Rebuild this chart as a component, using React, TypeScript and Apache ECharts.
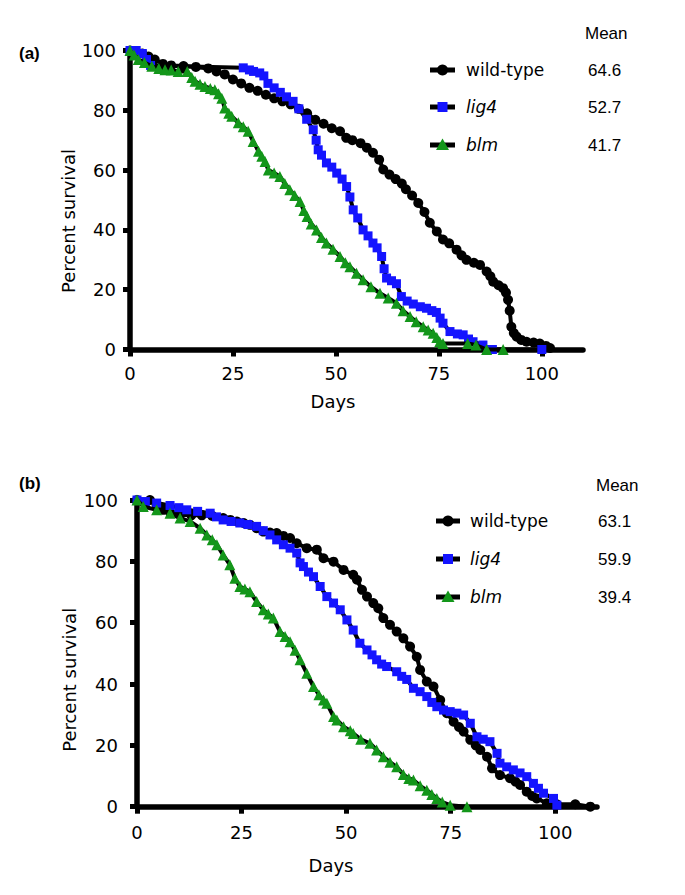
import React, { useEffect, useRef } from "react";
import * as echarts from "echarts";

// ---------- Data (days, percent survival) ----------
const xTicks = [0, 25, 50, 75, 100];
const yTicks = [0, 20, 40, 60, 80, 100];
const seriesNames = ["wild-type", "lig4", "blm"];
const meansA = ["64.6", "52.7", "41.7"];
const meansB = ["63.1", "59.9", "39.4"];

const aWildType = [
  [0, 100], [1.5, 99.5], [3, 99], [4.5, 98], [6, 97], [8, 95.5], [10, 95], [13, 94.8], [16, 94.5],
  [19, 94], [21, 93], [23, 92], [25, 90.3], [27, 89], [29, 87.5], [31, 86.5], [33, 85.2], [35, 84],
  [37, 83], [39, 82], [41, 80.5], [43, 79], [45, 76.8], [47, 75.5], [49, 74], [51, 73], [52.5, 70.8],
  [54, 70], [56, 69], [57.5, 67.5], [59, 65.8], [60.5, 63.5], [61.5, 60.2], [63, 58.5], [64.5, 57],
  [66, 55.5], [67, 53.6], [68.5, 51.5], [70, 49], [71.5, 46], [72.8, 42.4], [74.5, 39.5], [76, 36.8],
  [77.5, 35.5], [79.3, 33.4], [80.5, 31.5], [81.7, 30], [83.5, 29], [85, 28.3], [86.6, 26.1],
  [87.5, 24.5], [88.2, 22.7], [89.5, 21.5], [90.6, 20.5], [91.3, 19], [91.8, 16.6], [92.2, 13],
  [92.6, 7.6], [93.2, 5.5], [93.9, 4.3], [95, 3.2], [96.3, 2.6], [98, 2.3], [99.5, 2], [101, 1.2],
  [102, 0.5],
];
const aLig4 = [
  [0, 100], [1.5, 100], [3, 99], [4, 97], [5, 95], [27.5, 94.2], [29, 93.5], [30, 93], [31.5, 92.5],
  [32.5, 91.5], [33.5, 89], [35, 87.5], [36.5, 86], [38, 84.5], [39.6, 83], [41, 80.5], [42.9, 77],
  [44.5, 73.5], [45.2, 70], [45.7, 66.8], [46.5, 65], [47.7, 62.4], [49, 61], [50.2, 59], [51.5, 57],
  [52.6, 54.5], [53.4, 51], [54.2, 46.7], [55.3, 44], [56.6, 40], [57.8, 38], [59, 35.6], [60, 34],
  [61.1, 31.1], [61.7, 27], [62.3, 23.9], [63.5, 23], [64.7, 22], [65.9, 17.7], [67.3, 16.2],
  [68.8, 15.2], [70.5, 14.3], [72, 13.8], [73.3, 13], [74.4, 12.4], [75.3, 10.5], [76, 8.8],
  [77.7, 6], [79.5, 5.2], [80.9, 4.9], [82.2, 3.5], [83.3, 2.6], [85.7, 1.5], [87, 0], [88, 0],
  [100, 0],
];
const aBlm = [
  [0, 100], [1, 98.5], [2, 97], [3.5, 96], [5.3, 94.7], [7, 94], [8.5, 93.6], [10, 93.5], [11.7, 93],
  [13.9, 93], [15, 91], [15.8, 89.7], [17, 88.7], [18.2, 88], [19.5, 87.3], [20.6, 86.9], [21.5, 85.5],
  [22.3, 84], [23, 80.8], [24, 79], [24.7, 78], [26.3, 75.8], [27.5, 74.5], [28.7, 73], [29.9, 69.6],
  [31.2, 66.3], [32, 64.6], [32.8, 62.9], [33.6, 60], [35, 59], [36.4, 57.9], [37.6, 55.5],
  [38.8, 53.4], [40, 51.5], [41.3, 49.5], [42.2, 46.5], [43, 44.5], [44, 42], [45.3, 40], [46.5, 37.5],
  [47.7, 35.6], [49.3, 33.5], [51, 31.1], [52.3, 29], [53.4, 27.7], [55, 25.5], [56.6, 23.3],
  [58.5, 21], [60.7, 18.8], [62.7, 17.2], [64.7, 15.5], [66.3, 13], [68, 11], [69.5, 9.3],
  [71.2, 7.6], [72.4, 6.5], [73.6, 5.4], [74.5, 4], [75.2, 2.6], [76, 2], [82, 2], [84, 1.5],
  [86.6, 0], [90.6, 0],
];

const bWildType = [
  [0, 100], [3.1, 100], [4.7, 98.4], [6.3, 96.8], [8, 95.8], [10.3, 95.2], [13, 95], [15.5, 95],
  [18, 94.8], [20.6, 94.1], [22.3, 93.5], [23.9, 93], [25.5, 92.5], [27, 91.9], [28.6, 90.8],
  [30.2, 89.7], [31.8, 89.4], [33.4, 89.2], [35, 88.3], [36.6, 87.6], [38.2, 85.9], [40.6, 84.3],
  [43, 83.8], [44.6, 81], [47, 79.9], [49.4, 77.2], [51.7, 75.6], [52.6, 74], [53.8, 70.7], [55, 68.5],
  [56.5, 66.4], [57.7, 64.7], [58.9, 61.5], [60.5, 59.3], [62.1, 57.1], [63.7, 54.9], [65.3, 52.2],
  [66.9, 48.9], [67.7, 44.6], [69.3, 40.8], [70.9, 39.2], [72.5, 34.8], [74.1, 30.5], [75.7, 27.7],
  [77, 26], [78.1, 24.5], [79.7, 21.8], [81, 20], [82.1, 18.5], [83.7, 16.3], [84.9, 12.5],
  [86.8, 10.3], [89.2, 9.3], [90.5, 8.2], [91.6, 7.1], [93.2, 4.9], [94.5, 3.5], [95.6, 2.7],
  [98, 1.1], [100.4, 0.8], [104.8, 0.8], [108.4, 0],
];
const bLig4 = [
  [0, 100], [2, 99.5], [4.7, 99], [7.9, 98.2], [10, 97.5], [11.9, 96.8], [14.5, 96.3], [17.5, 95.7],
  [19, 94.5], [20.6, 93.5], [22.5, 93], [24.6, 92.5], [26.5, 92], [28.6, 91.4], [30.2, 90],
  [31.8, 88.6], [33.4, 87], [35, 85.4], [36.6, 84.3], [38.2, 82.7], [39, 79.5], [39.8, 78.3],
  [41, 76.5], [42.2, 75], [43.8, 71.8], [45.4, 68.5], [47, 66.4], [48.6, 64.2], [50.2, 60.9],
  [51.7, 57.6], [53.3, 53.3], [55, 51.1], [56.2, 49.5], [57.3, 47.9], [58.5, 46.5], [59.7, 45.7],
  [62.1, 44], [63.3, 42.5], [64.5, 41.5], [66.1, 38.6], [67.7, 37.5], [69.3, 35.9], [70.5, 34],
  [71.7, 32.6], [73.3, 31.5], [74.9, 31], [76.5, 30.5], [78.1, 29.9], [79.7, 27.2], [81.3, 22.8],
  [82.8, 22], [84.4, 21.2], [86.1, 17.4], [86.8, 14.2], [88.4, 13], [90, 12], [91.6, 11], [93.2, 9.8],
  [94.8, 7.6], [96, 6], [97.2, 4.4], [99.6, 2.7], [100.4, 0.5],
];
const bBlm = [
  [0, 100], [1.5, 97.9], [4.7, 96.8], [7.9, 95.7], [10.3, 94.1], [12.7, 93], [15.1, 90.8],
  [16.7, 88.6], [18, 87], [19.1, 85.4], [20.6, 82.1], [22.2, 78.9], [23.4, 74.5], [24.6, 71.8],
  [25.8, 71], [27, 70.1], [28.6, 66.9], [30.2, 64.2], [31.4, 62.8], [32.6, 61.5], [34.2, 57.1],
  [35.4, 55.5], [36.6, 53.8], [37.8, 51], [39, 47.9], [40.6, 43.5], [42.2, 39.2], [43.5, 36.5],
  [44.6, 34.8], [45.4, 33.7], [47, 29.4], [47.8, 28.3], [49.4, 26.1], [51, 24.8], [51.7, 23.9],
  [53.5, 22], [55.7, 20.7], [57.3, 18.5], [58.9, 16.3], [60.5, 14.5], [62.1, 13], [63.7, 10.5],
  [65, 9.2], [66.1, 8.7], [67.7, 6.8], [69.3, 5.4], [70.5, 4], [71.7, 2.7], [73, 1.5], [74.9, 0.5],
  [78.9, 0],
];

// ---------- Styles ----------
const BLACK = "#000000";
const BLUE = "#1414ff";
const GREEN = "#13961a";
const TICK_FONT = "DejaVu Sans";
const TEXT_FONT = "Liberation Sans, Arial, sans-serif";

const styles = [
  { symbol: "circle", size: 10, color: BLACK },
  { symbol: "rect", size: 9, color: BLUE },
  { symbol: "triangle", size: 11, color: GREEN },
];

function makeSeries(name: string, data: number[][], idx: number, axis: number) {
  const s = styles[idx];
  return {
    type: "line",
    name,
    data,
    xAxisIndex: axis,
    yAxisIndex: axis,
    symbol: s.symbol,
    symbolSize: s.size,
    showSymbol: true,
    showAllSymbol: true,
    clip: false,
    lineStyle: { color: BLACK, width: 4 },
    itemStyle: { color: s.color, borderWidth: 0 },
    emphasis: { disabled: true },
    z: 3 + idx,
  };
}

function makeXAxis(gridIndex: number, nameGap: number, labelMargin: number, namePadRight: number) {
  return {
    type: "value",
    gridIndex,
    min: 0,
    max: 110,
    interval: 25,
    name: "Days",
    nameLocation: "middle",
    nameGap,
    nameMoveOverlap: false,
    nameTextStyle: { fontFamily: TICK_FONT, fontSize: 18, color: BLACK, padding: [0, namePadRight, 0, 0] },
    splitLine: { show: false },
    axisLine: { onZero: false, lineStyle: { color: BLACK, width: 5.5 } },
    axisTick: { show: true, length: 7, lineStyle: { color: BLACK, width: 5 }, customValues: xTicks },
    axisLabel: {
      customValues: xTicks,
      fontFamily: TICK_FONT,
      fontSize: 18,
      color: BLACK,
      margin: labelMargin,
    },
  };
}

function makeYAxis(gridIndex: number, nameGap: number, labelMargin: number, namePadRight: number) {
  return {
    type: "value",
    gridIndex,
    min: 0,
    max: 100,
    interval: 20,
    name: "Percent survival",
    nameLocation: "middle",
    nameRotate: 90,
    nameGap,
    nameMoveOverlap: false,
    nameTextStyle: { fontFamily: TICK_FONT, fontSize: 18, color: BLACK, padding: [0, namePadRight, 0, 0] },
    splitLine: { show: false },
    axisLine: { onZero: false, lineStyle: { color: BLACK, width: 5.5 } },
    axisTick: { show: true, length: 7, lineStyle: { color: BLACK, width: 5 } },
    axisLabel: {
      fontFamily: TICK_FONT,
      fontSize: 18,
      color: BLACK,
      margin: labelMargin,
      formatter: (v: number) => (yTicks.indexOf(v) >= 0 ? String(v) : ""),
    },
  };
}

function legendGraphics(
  lineX0: number,
  lineX1: number,
  ys: number[],
  textX: number,
  valueX: number,
  meanX: number,
  meanY: number,
  values: string[]
) {
  const els: any[] = [];
  const cx = (lineX0 + lineX1) / 2;
  els.push({
    type: "text",
    x: meanX,
    y: meanY,
    style: { text: "Mean", fontFamily: TEXT_FONT, fontSize: 17, fill: BLACK, verticalAlign: "middle" },
  });
  ys.forEach((y, i) => {
    els.push({
      type: "line",
      shape: { x1: lineX0, y1: y, x2: lineX1, y2: y },
      style: { stroke: BLACK, lineWidth: 5 },
    });
    if (i === 0) {
      els.push({ type: "circle", shape: { cx, cy: y, r: 5.5 }, style: { fill: BLACK } });
    } else if (i === 1) {
      els.push({ type: "rect", shape: { x: cx - 5, y: y - 5, width: 10, height: 10 }, style: { fill: BLUE } });
    } else {
      els.push({
        type: "polygon",
        shape: { points: [[cx, y - 6.5], [cx + 6.5, y + 5], [cx - 6.5, y + 5]] },
        style: { fill: GREEN },
      });
    }
    els.push({
      type: "text",
      x: textX,
      y,
      style: {
        text: seriesNames[i],
        fontFamily: TICK_FONT,
        fontSize: 17,
        fontStyle: i === 0 ? "normal" : "italic",
        fill: BLACK,
        verticalAlign: "middle",
      },
    });
    els.push({
      type: "text",
      x: valueX,
      y,
      style: { text: values[i], fontFamily: TEXT_FONT, fontSize: 17, fill: BLACK, verticalAlign: "middle" },
    });
  });
  return els;
}

export default function App() {
  const ref = useRef<HTMLDivElement>(null);

  useEffect(() => {
    if (!ref.current) return;
    const chart = echarts.init(ref.current, null, { renderer: "svg" });
    const option: any = {
      animation: false,
      backgroundColor: "#ffffff",
      grid: [
        { left: 130, top: 50.5, width: 453, height: 299 },
        { left: 137, top: 500, width: 460, height: 306.7 },
      ],
      xAxis: [makeXAxis(0, 43, 15, 47), makeXAxis(1, 50, 17, 72)],
      yAxis: [makeYAxis(0, 53, 14, 42), makeYAxis(1, 59, 19, 53)],
      series: [
        makeSeries(seriesNames[0], aWildType, 0, 0),
        makeSeries(seriesNames[1], aLig4, 1, 0),
        makeSeries(seriesNames[2], aBlm, 2, 0),
        makeSeries(seriesNames[0], bWildType, 0, 1),
        makeSeries(seriesNames[1], bLig4, 1, 1),
        makeSeries(seriesNames[2], bBlm, 2, 1),
      ],
      graphic: [
        {
          type: "text",
          x: 19,
          y: 53,
          style: { text: "(a)", fontFamily: TEXT_FONT, fontSize: 17, fontWeight: "bold", fill: BLACK, verticalAlign: "middle" },
        },
        {
          type: "text",
          x: 19,
          y: 483,
          style: { text: "(b)", fontFamily: TEXT_FONT, fontSize: 17, fontWeight: "bold", fill: BLACK, verticalAlign: "middle" },
        },
        ...legendGraphics(430, 455, [70, 107, 145], 466, 588, 585, 33, meansA),
        ...legendGraphics(436, 460, [521, 559, 597], 470, 598, 596, 485, meansB),
      ],
    };
    chart.setOption(option);
    return () => chart.dispose();
  }, []);

  return (
    <div
      ref={ref}
      style={{ position: "absolute", left: 0, top: 0, width: 685, height: 895, background: "#fff" }}
    />
  );
}
